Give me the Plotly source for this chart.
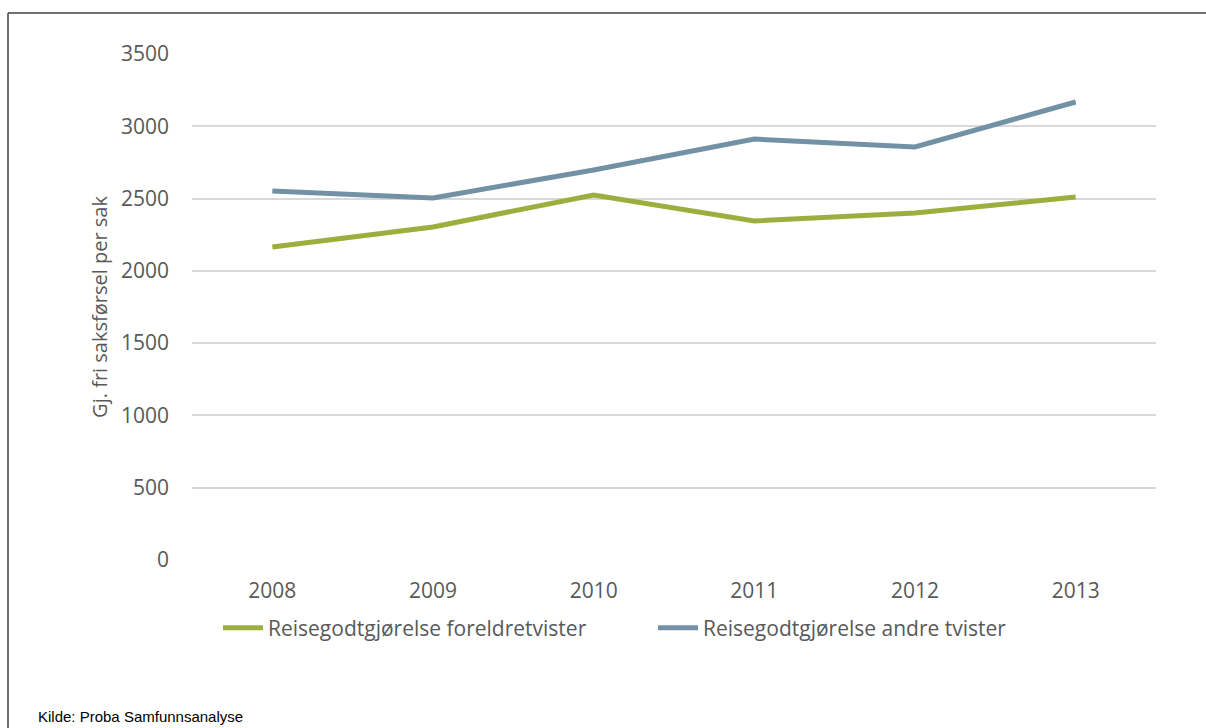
import plotly.graph_objects as go

years = ["2008", "2009", "2010", "2011", "2012", "2013"]
foreldretvister = [2165, 2304, 2525, 2345, 2400, 2511]
andre_tvister = [2553, 2504, 2698, 2912, 2857, 3168]
series_names = ["Reisegodtgjørelse foreldretvister", "Reisegodtgjørelse andre tvister"]
y_ticks = [0, 500, 1000, 1500, 2000, 2500, 3000, 3500]

W, H = 1206, 728
# plot area in screenshot coordinates
PX0, PX1, PY0, PY1 = 192, 1156, 54, 560
L, R, T, B = PX0, W - PX1, PY0, H - PY1
pw = PX1 - PX0
ph = PY1 - PY0

def px(x):
    return (x - PX0) / pw

def py(y):
    return (PY1 - y) / ph

fig = go.Figure()
fig.add_trace(go.Scatter(x=years, y=foreldretvister, mode="lines", name=series_names[0],
                         line=dict(color="#9BAF3E", width=5)))
fig.add_trace(go.Scatter(x=years, y=andre_tvister, mode="lines", name=series_names[1],
                         line=dict(color="#7391A4", width=5)))

font = "'Open Sans', Lato, sans-serif"
txt = "#595959"
fig.update_layout(
    width=W, height=H,
    margin=dict(l=L, r=R, t=T, b=B, pad=0),
    paper_bgcolor="white", plot_bgcolor="white",
    font=dict(family=font, size=21, color=txt),
    xaxis=dict(type="category", range=[-0.5, 5.5], showgrid=False, showline=False, ticks="",
               ticklabelstandoff=16, tickfont=dict(size=21, color=txt)),
    yaxis=dict(range=[0, 3500], tickvals=y_ticks, showgrid=True, gridcolor="#D9D9D9",
               gridwidth=1.5, zeroline=False, showline=False, ticks="",
               ticklabelstandoff=22,
               title=dict(text="Gj. fri saksførsel per sak", standoff=7,
                          font=dict(size=20, color=txt)),
               tickfont=dict(size=21, color=txt)),
    showlegend=True,
    legend=dict(orientation="h", x=px(218), xanchor="left", y=py(628), yanchor="middle",
                font=dict(size=21, color=txt), bgcolor="rgba(0,0,0,0)",
                itemwidth=40, entrywidth=380, tracegroupgap=0),
    shapes=[
        dict(type="line", xref="paper", yref="paper", x0=px(8), x1=px(1220), y0=py(13), y1=py(13),
             line=dict(color="#404040", width=1.5)),
        dict(type="line", xref="paper", yref="paper", x0=px(8), x1=px(8), y0=py(13), y1=py(740),
             line=dict(color="#404040", width=1.5)),
    ],
    annotations=[
        dict(text="Kilde: Proba Samfunnsanalyse", xref="paper", yref="paper",
             x=px(36), y=py(716), xanchor="left", yanchor="middle", showarrow=False,
             font=dict(family="'Liberation Sans Narrow', 'Arial Narrow', 'Liberation Sans', sans-serif",
                       size=15, color="#000000")),
    ],
)

fig.write_html(
    "out.html",
    config={"displayModeBar": False},
    post_script="document.body.style.margin='0';"
                "document.documentElement.style.overflow='hidden';"
                "document.body.style.overflow='hidden';",
)
